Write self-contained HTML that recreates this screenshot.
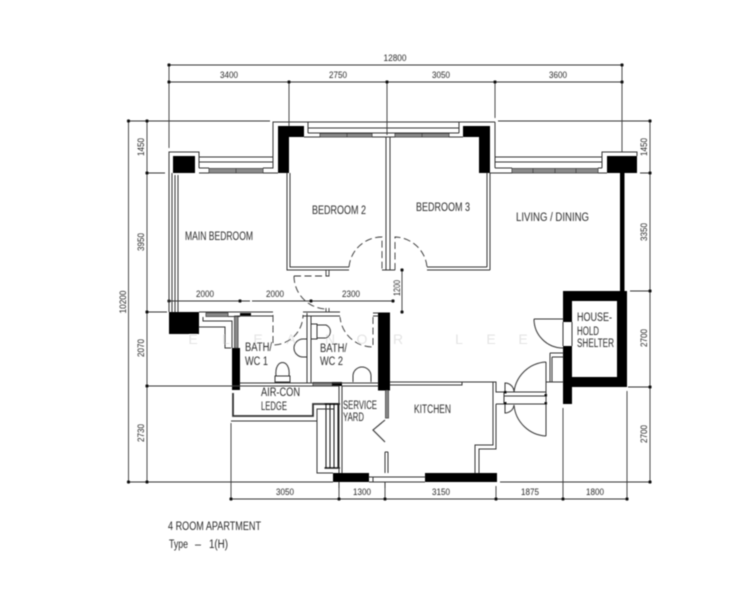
<!DOCTYPE html>
<html><head><meta charset="utf-8"><title>4 Room Apartment</title>
<style>
html,body{margin:0;padding:0;background:#fff}
svg{display:block}
text{font-family:"Liberation Sans",sans-serif;fill:#2a2a2a}
.d{font-size:9px;text-anchor:middle;dominant-baseline:central}
.r{font-size:11.5px;dominant-baseline:central}
.w{font-size:14px;fill:#e4e4e4;text-anchor:middle;dominant-baseline:central}
</style></head><body>
<svg width="741" height="600" viewBox="0 0 741 600" xmlns="http://www.w3.org/2000/svg">
<defs><filter id="b" x="-2%" y="-2%" width="104%" height="104%"><feGaussianBlur stdDeviation="0.45"/></filter></defs>
<rect width="741" height="600" fill="#fff"/>
<g filter="url(#b)">
<!-- watermark -->
<text class="w" x="193" y="339">E</text><text class="w" x="226" y="339">L</text><text class="w" x="258" y="339">E</text><text class="w" x="291" y="339">A</text><text class="w" x="330" y="339">N</text><text class="w" x="362" y="339">O</text><text class="w" x="398" y="339">R</text><text class="w" x="459" y="339">L</text><text class="w" x="491" y="339">E</text><text class="w" x="523" y="339">E</text>

<!-- dimension lines -->
<g fill="none" stroke="#333" stroke-width="0.9">
<path d="M169 65H622M169 82H622M169 65V148M289 82V126M387 82V135M495 82V118M622 65V152"/>
<path d="M128.500 121V482M147 121V482M128 121H270M147 173H165M147 312H167M147 386H231M128 482H333"/>
<path d="M650 121V482M498 121H650M640 173H650M630 291H650M628 387H650M500 482H650"/>
<path d="M231 499H627M231 423V499M339 488V499M385 488V499M496 486V499M563 408V499M627 391V499"/>
<path d="M169 301H250M252 301H393M402 270V312"/>
</g>
<g fill="#111">
<circle cx="169" cy="65" r="1.600"/><circle cx="622" cy="65" r="1.600"/>
<circle cx="169" cy="82" r="1.600"/><circle cx="289" cy="82" r="1.600"/><circle cx="387" cy="82" r="1.600"/><circle cx="495" cy="82" r="1.600"/><circle cx="622" cy="82" r="1.600"/>
<circle cx="128.500" cy="121" r="1.600"/><circle cx="147" cy="121" r="1.600"/><circle cx="147" cy="173" r="1.600"/><circle cx="147" cy="312" r="1.600"/><circle cx="147" cy="386" r="1.600"/><circle cx="128.500" cy="482" r="1.600"/><circle cx="147" cy="482" r="1.600"/>
<circle cx="650" cy="121" r="1.600"/><circle cx="650" cy="173" r="1.600"/><circle cx="650" cy="291" r="1.600"/><circle cx="650" cy="387" r="1.600"/><circle cx="650" cy="482" r="1.600"/>
<circle cx="231" cy="499" r="1.600"/><circle cx="339" cy="499" r="1.600"/><circle cx="385" cy="499" r="1.600"/><circle cx="496" cy="499" r="1.600"/><circle cx="563" cy="499" r="1.600"/><circle cx="627" cy="499" r="1.600"/>
<circle cx="169" cy="301" r="1.600"/><circle cx="240" cy="301" r="1.600"/><circle cx="311" cy="301" r="1.600"/><circle cx="393" cy="301" r="1.600"/><circle cx="402" cy="270" r="1.600"/><circle cx="402" cy="312" r="1.600"/>
</g>

<!-- top outline, ledges, thin walls -->
<g fill="none" stroke="#333" stroke-width="1">
<path d="M169 312V152H199V168M199 157H273M199 162H273M199 168H209M263 168H273V122H495M273 173H278M199 173H209M263 173H278"/>
<path d="M308 122V133M459 122V133M308 128H459M308 133H459M304 137H320M372 137H395M449 137H463"/>
<path d="M495 122V168M495 157H602M495 162H602M495 168H512M490 173H512M598 168H602M598 173H607M602 168V152H637V156"/>
<path d="M172 173V312M175 175V312M178 175V312"/>
<path d="M287 173V270H349M290 173V267H349M386 137V270M390 137V270M382 270H395M427 267H487M427 270H490M487 173V267M490 173V270"/>
</g>

<!-- windows -->
<g fill="#8a8a8a" stroke="#333" stroke-width="0.8">
<rect x="209" y="168.500" width="54" height="4.500"/><rect x="320" y="133.500" width="52" height="3.500"/><rect x="395" y="133.500" width="54" height="3.500"/><rect x="512" y="168.500" width="86" height="4.500"/><rect x="206" y="313" width="22" height="3.500"/>
<rect x="313" y="382.500" width="19" height="3.500"/><rect x="234.500" y="316" width="3.500" height="32"/><rect x="385.500" y="390" width="3" height="28"/>
<path d="M236 168.500V173M347 133.500V137M422 133.500V137M533 168.500V173M555 168.500V173M576 168.500V173" fill="none"/>
</g>

<!-- solid black -->
<g fill="#000">
<rect x="173" y="156" width="22" height="17"/>
<path d="M278 126H304V137H289V173H278Z"/>
<path d="M463 126H490V173H479V137H463Z"/>
<rect x="607" y="156" width="30" height="17"/>
<rect x="620" y="173" width="4.500" height="119"/>
<path d="M169 312H199V334H169Z"/>
<rect x="232" y="348" width="8" height="42"/>
<rect x="378" y="312.500" width="12" height="78"/>
<rect x="240" y="313" width="11" height="3"/>
<rect x="333" y="473" width="36" height="9"/>
<rect x="425" y="473" width="72" height="9"/>
<rect x="332" y="382" width="10" height="4"/>
<path fill-rule="evenodd" d="M563 291H627V387H572V404H563V346H572V377H617V301H572V322H563Z"/>
</g>

<!-- doors to bedrooms -->
<g fill="none" stroke="#333" stroke-width="0.9">
<path stroke-dasharray="7 3.500" d="M349 267A33 33 0 0 1 382 237V270M395 270V237A33 33 0 0 1 427 267M294 276H327M294 276A33 33 0 0 0 327 309"/>
<path d="M326 270V276H329V270M326 308V312H329V308"/>
<!-- bath doors -->
<path stroke-dasharray="7 3.500" d="M273 315V345A30 30 0 0 0 303 315M373 317V347A33 33 0 0 1 340 317"/>
</g>

<!-- baths -->
<g fill="none" stroke="#333" stroke-width="1">
<path d="M199 312H273M303 312H340M199 327H225V348H231M203 317V321H232V348M228 316.500H240M237 316H273M303 316H340M373 316H378M373 313H378"/>
<path d="M307 313V383M311 316V383M240 383H378M231 386H339M342 386H378"/>
<!-- basin bath 1 -->
<path d="M307 339H303A9 9 0 0 0 303 357H307"/>
<!-- WC 1 -->
<path d="M275 376H290V382H275ZM276 376C274 358 291 358 289 376"/>
<!-- WC 2 -->
<path d="M311 324H317V339H311ZM317 325H326A7 7 0 0 1 326 338H317"/>
<!-- basin bath 2 -->
<path d="M353 382V376A9 9 0 0 1 371 376V382"/>
</g>

<!-- aircon ledge -->
<g fill="none">
<path stroke="#333" stroke-width="1.800" d="M233 393V416H313V404H340"/>
<path stroke="#333" stroke-width="1" d="M231 421H317V409H334M317 421V473H333"/>
<path stroke="#111" stroke-width="1" d="M326 404V468M330 404V468M334 404V468M338 404V468"/>
<path stroke="#111" stroke-width="1.600" d="M324.500 404H340M324.500 468H340"/>
<path stroke="#333" stroke-width="1" d="M339 386V473M342 386V473M339 482V488"/>
</g>

<!-- service yard door and kitchen -->
<g fill="none" stroke="#333" stroke-width="1">
<path stroke-width="1.100" d="M385 420L373 430L385 442"/>
<path d="M385 452V473M388 452V473M385 452H388"/>
<path d="M369 477H425M373 477V482M369 482H425M385 482V488"/>
<path d="M390 382H496V392H504M390 385H462V382M493 382V445H475V473M496 404V449H479V473M496 404H504"/>
<path d="M504 392H546M504 396H546M504 404H546M504 392V404"/>
<path d="M546 382H563M546 382V404M550 353H563M550 353V382M552 357H563M552 357V382"/>
<!-- entrance door leaves -->
<path d="M546 362V396M546 362A34 34 0 0 0 514 392M546 436V404M546 436A34 34 0 0 1 514 405"/>
<path d="M505 392V383A9 9 0 0 1 514 392M505 404V413A9 9 0 0 0 514 405"/>
<!-- shelter door -->
<path d="M534 319H563M534 319A29 29 0 0 0 563 348M563 322V346M572 322V346"/>
</g>
<g fill="#111"><rect x="504" y="391" width="2.500" height="2.500"/><rect x="504" y="402" width="2.500" height="2.500"/><rect x="544.500" y="394" width="2.500" height="2.500"/><rect x="544.500" y="402" width="2.500" height="2.500"/></g>

<!-- dimension text -->
<text class="d" x="395" y="58" textLength="23" lengthAdjust="spacingAndGlyphs">12800</text>
<text class="d" x="229" y="75" textLength="18" lengthAdjust="spacingAndGlyphs">3400</text>
<text class="d" x="338" y="75" textLength="18" lengthAdjust="spacingAndGlyphs">2750</text>
<text class="d" x="441" y="75" textLength="18" lengthAdjust="spacingAndGlyphs">3050</text>
<text class="d" x="558" y="75" textLength="18" lengthAdjust="spacingAndGlyphs">3600</text>
<text class="d" x="205" y="294" textLength="18" lengthAdjust="spacingAndGlyphs">2000</text>
<text class="d" x="275" y="294" textLength="18" lengthAdjust="spacingAndGlyphs">2000</text>
<text class="d" x="351" y="294" textLength="18" lengthAdjust="spacingAndGlyphs">2300</text>
<text class="d" x="285" y="492" textLength="18" lengthAdjust="spacingAndGlyphs">3050</text>
<text class="d" x="362" y="492" textLength="18" lengthAdjust="spacingAndGlyphs">1300</text>
<text class="d" x="441" y="492" textLength="18" lengthAdjust="spacingAndGlyphs">3150</text>
<text class="d" x="530" y="492" textLength="18" lengthAdjust="spacingAndGlyphs">1875</text>
<text class="d" x="595" y="492" textLength="18" lengthAdjust="spacingAndGlyphs">1800</text>
<text class="d" transform="translate(141 147) rotate(-90)" textLength="18" lengthAdjust="spacingAndGlyphs">1450</text>
<text class="d" transform="translate(141 242) rotate(-90)" textLength="18" lengthAdjust="spacingAndGlyphs">3950</text>
<text class="d" transform="translate(123 302) rotate(-90)" textLength="23" lengthAdjust="spacingAndGlyphs">10200</text>
<text class="d" transform="translate(141 348) rotate(-90)" textLength="18" lengthAdjust="spacingAndGlyphs">2070</text>
<text class="d" transform="translate(141 433) rotate(-90)" textLength="18" lengthAdjust="spacingAndGlyphs">2730</text>
<text class="d" transform="translate(644 147) rotate(-90)" textLength="18" lengthAdjust="spacingAndGlyphs">1450</text>
<text class="d" transform="translate(644 232) rotate(-90)" textLength="18" lengthAdjust="spacingAndGlyphs">3350</text>
<text class="d" transform="translate(644 338) rotate(-90)" textLength="18" lengthAdjust="spacingAndGlyphs">2700</text>
<text class="d" transform="translate(644 434) rotate(-90)" textLength="18" lengthAdjust="spacingAndGlyphs">2700</text>
<text class="d" transform="translate(397 288) rotate(-90)" textLength="16" lengthAdjust="spacingAndGlyphs">1200</text>

<!-- room labels -->
<text class="r" x="185" y="237" textLength="68" lengthAdjust="spacingAndGlyphs">MAIN BEDROOM</text>
<text class="r" x="312" y="211" textLength="54" lengthAdjust="spacingAndGlyphs">BEDROOM 2</text>
<text class="r" x="416" y="208" textLength="54" lengthAdjust="spacingAndGlyphs">BEDROOM 3</text>
<text class="r" x="516" y="218" textLength="73" lengthAdjust="spacingAndGlyphs">LIVING / DINING</text>
<text class="r" x="245" y="348" textLength="27" lengthAdjust="spacingAndGlyphs">BATH/</text>
<text class="r" x="245" y="362" textLength="23" lengthAdjust="spacingAndGlyphs">WC 1</text>
<text class="r" x="320" y="349" textLength="27" lengthAdjust="spacingAndGlyphs">BATH/</text>
<text class="r" x="320" y="362" textLength="23" lengthAdjust="spacingAndGlyphs">WC 2</text>
<text class="r" x="261" y="393" textLength="39" lengthAdjust="spacingAndGlyphs">AIR-CON</text>
<text class="r" x="261" y="407" textLength="26" lengthAdjust="spacingAndGlyphs">LEDGE</text>
<text class="r" x="343" y="406" textLength="34" lengthAdjust="spacingAndGlyphs">SERVICE</text>
<text class="r" x="343" y="418" textLength="21" lengthAdjust="spacingAndGlyphs">YARD</text>
<text class="r" x="414" y="410" textLength="37" lengthAdjust="spacingAndGlyphs">KITCHEN</text>
<text class="r" x="577" y="318" textLength="35" lengthAdjust="spacingAndGlyphs">HOUSE-</text>
<text class="r" x="577" y="332" textLength="22" lengthAdjust="spacingAndGlyphs">HOLD</text>
<text class="r" x="577" y="344" textLength="37" lengthAdjust="spacingAndGlyphs">SHELTER</text>
<text class="r" x="168" y="527" textLength="93" lengthAdjust="spacingAndGlyphs">4 ROOM APARTMENT</text>
<text class="r" x="169" y="545" textLength="19" lengthAdjust="spacingAndGlyphs">Type</text>
<text class="r" x="195" y="545" textLength="6" lengthAdjust="spacingAndGlyphs">–</text>
<text class="r" x="209" y="545" textLength="19" lengthAdjust="spacingAndGlyphs">1(H)</text>
</g>
</svg>
</body></html>
